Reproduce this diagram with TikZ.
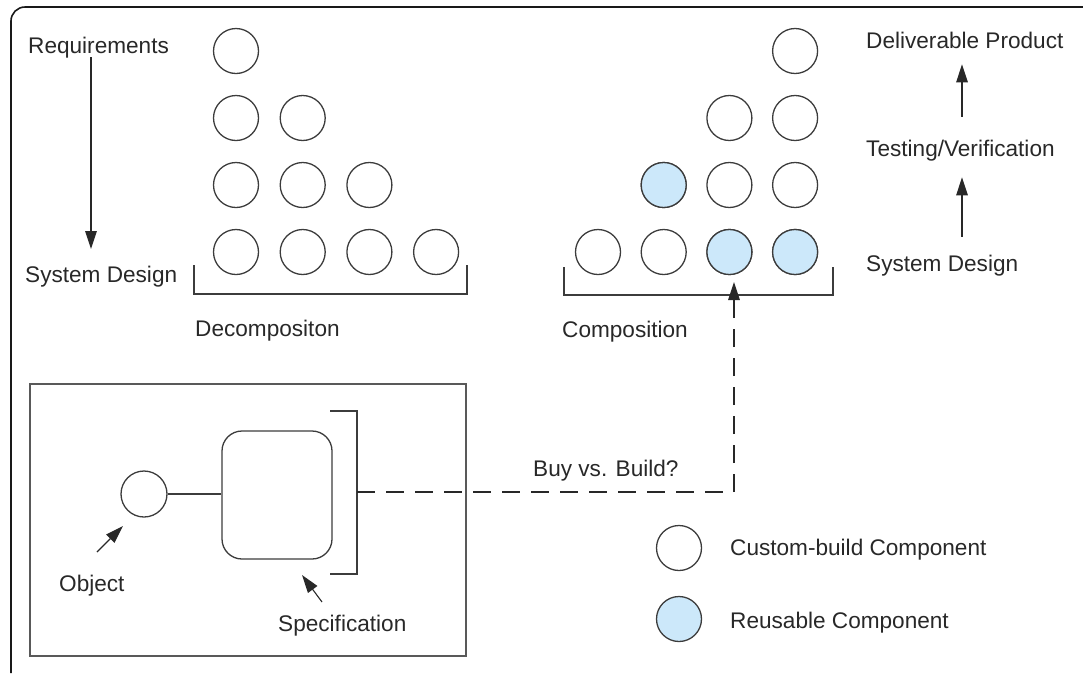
\documentclass[tikz,border=0pt]{standalone}
\usepackage{fontspec}
\setmainfont{Liberation Sans}
\usetikzlibrary{arrows.meta}
\definecolor{reuseblue}{RGB}{204,232,250}
\definecolor{ink}{RGB}{40,40,40}
\definecolor{edge}{RGB}{60,60,60}
\begin{document}
\begin{tikzpicture}[x=1pt,y=-1pt,
  comp/.style={circle, draw=edge, line width=1.3pt, minimum size=45pt, inner sep=0pt},
  reuse/.style={comp, fill=reuseblue},
  lbl/.style={font=\fontsize{22.6}{27}\selectfont, text=ink, inner sep=0pt, anchor=west, text height=16.2pt, text depth=0pt},
  arr/.style={-{Triangle[length=18pt,width=11.5pt]}, line width=1.3pt, draw=ink},
  brk/.style={line width=1.5pt, draw=edge},
  dashline/.style={line width=1.4pt, draw=ink, dash pattern=on 18pt off 11pt}
]
\useasboundingbox (0,0) rectangle (1083,673);
% outer frame (partially visible)
\draw[line width=1.6pt, rounded corners=14pt, draw=black!90] (11,673) -- (11,7) -- (1083,7);

% ---------- Decomposition (left pyramid) ----------
\foreach \r in {1,...,4}{
  \foreach \c in {1,...,\r}{
    \node[comp] (L\r\c) at ({236+(\c-1)*66.7},{51+(\r-1)*67}) {};
  }
}
\draw[brk] (194,265) -- (194,294) -- (467,294) -- (467,265);
\node[lbl] (decomp) at (195,328) {Decompositon};

\node[lbl] (req) at (28,45) {Requirements};
\node[lbl] (sdL) at (25,274) {System Design};
\coordinate (reqA) at (91,57);
\coordinate (sdA) at (91,249);
\draw[arr] (reqA) -- (sdA);

% ---------- Composition (right pyramid) ----------
\foreach \r in {1,...,4}{
  \pgfmathtruncatemacro{\cs}{5-\r}
  \foreach \c in {\cs,...,4}{
    \node[comp] (R\r\c) at ({598+(\c-1)*65.7},{51+(\r-1)*67}) {};
  }
}
\node[reuse] at (R32) {};
\node[reuse] at (R43) {};
\node[reuse] at (R44) {};
\draw[brk] (564,267) -- (564,295) -- (833,295) -- (833,267);
\node[lbl] (comp) at (562,329) {Composition};

\node[lbl] (dp) at (866,40) {Deliverable Product};
\node[lbl] (tv) at (866,148) {Testing/Verification};
\node[lbl] (sdR) at (866,263) {System Design};
\draw[arr, shorten <=23pt, shorten >=16pt] (tv.north -| 962,0) -- (dp.south -| 962,0);
\draw[arr, shorten <=18pt, shorten >=21pt] (sdR.north -| 962,0) -- (tv.south -| 962,0);

% ---------- Object / Specification box ----------
\draw[line width=1.8pt, draw=black!65] (30,384) rectangle (466,656);
\node[circle, draw=edge, line width=1.3pt, minimum size=46pt, inner sep=0pt] (obj) at (144,494) {};
\node[rectangle, rounded corners=20pt, draw=edge, line width=1.3pt, minimum width=110pt, minimum height=128pt, inner sep=0pt] (spec) at (277,495) {};
\draw[line width=1.3pt, draw=edge] (obj) -- (spec.west |- obj);
\draw[brk] (330,411) -- (357,411) -- (357,574) -- (330,574);
\coordinate (specbr) at (357,492);

\node[lbl] (objlbl) at (59,583) {Object};
\node[lbl] (speclbl) at (278,623) {Specification};
\coordinate (objA) at (97,552);
\coordinate (objB) at (123,526);
\draw[arr, line width=1.1pt] (objA) -- (objB);
\coordinate (specA) at (322,602);
\coordinate (specB) at (302,575);
\draw[arr, line width=1.1pt] (specA) -- (specB);

% ---------- Buy vs Build connector ----------
\coordinate (comptip) at (734,282);
\draw[dashline] (specbr) -- (734,492) -- (734,300);
\draw[arr] (734,302) -- (comptip);
\node[lbl] (buy) at (533,468) {Buy vs. Build?};

% ---------- Legend ----------
\node[comp] (legC) at (679,548) {};
\node[reuse] (legR) at (679,619) {};
\node[lbl] (legCt) at (730,547) {Custom-build Component};
\node[lbl] (legRt) at (730,620) {Reusable Component};
\end{tikzpicture}
\end{document}
